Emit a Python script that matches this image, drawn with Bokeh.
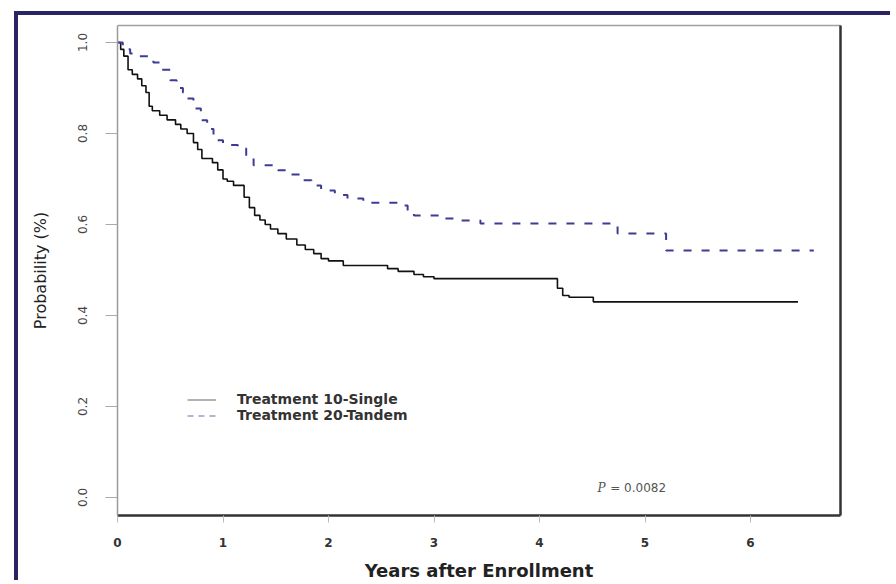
import numpy as np
from bokeh.plotting import figure
from bokeh.models import Range1d, FixedTicker, LinearAxis, Legend, LegendItem, Label, NumeralTickFormatter
from bokeh.embed import file_html
from bokeh.resources import INLINE

# ---- data ----
single_t = [0.0, 0.03, 0.06, 0.10, 0.14, 0.19, 0.23, 0.27, 0.30, 0.33, 0.40, 0.47, 0.55, 0.60,
            0.66, 0.72, 0.76, 0.80, 0.90, 0.95, 1.00, 1.04, 1.10, 1.20, 1.25, 1.30, 1.35, 1.40,
            1.45, 1.52, 1.60, 1.70, 1.78, 1.86, 1.93, 2.00, 2.14, 2.56, 2.66, 2.81, 2.90, 3.00,
            4.17, 4.22, 4.28, 4.51, 6.45]
single_s = [1.0, 0.985, 0.97, 0.94, 0.93, 0.92, 0.905, 0.89, 0.86, 0.85, 0.84, 0.83, 0.82, 0.81,
            0.80, 0.78, 0.765, 0.745, 0.736, 0.72, 0.70, 0.695, 0.686, 0.66, 0.637, 0.62, 0.61, 0.60,
            0.59, 0.58, 0.568, 0.555, 0.545, 0.536, 0.525, 0.52, 0.51, 0.503, 0.497, 0.49, 0.485, 0.481,
            0.46, 0.444, 0.44, 0.43, 0.43]

tandem_t = [0.0, 0.05, 0.12, 0.20, 0.30, 0.34, 0.42, 0.50, 0.56, 0.62, 0.66, 0.72, 0.79, 0.85,
            0.91, 1.00, 1.14, 1.22, 1.29, 1.52, 1.62, 1.74, 1.84, 1.93, 2.06, 2.18, 2.33, 2.66,
            2.75, 2.81, 3.07, 3.20, 3.44, 4.74, 5.20, 6.60]
tandem_s = [1.0, 0.985, 0.976, 0.97, 0.965, 0.956, 0.94, 0.917, 0.90, 0.89, 0.877, 0.855, 0.829, 0.81,
            0.785, 0.775, 0.767, 0.75, 0.73, 0.719, 0.71, 0.697, 0.686, 0.675, 0.665, 0.657, 0.648, 0.642,
            0.63, 0.62, 0.613, 0.609, 0.602, 0.58, 0.543, 0.543]

x_ticks = [0, 1, 2, 3, 4, 5, 6]
y_ticks = [0.0, 0.2, 0.4, 0.6, 0.8, 1.0]
legend_labels = ["Treatment 10-Single", "Treatment 20-Tandem"]
p_symbol = "P"
p_rest = "= 0.0082"
x_label = "Years after Enrollment"
y_label = "Probability (%)"

NAVY = "#2b2463"

p = figure(width=876, height=569, output_backend="svg", toolbar_location=None,
           x_range=Range1d(0, 6.853), y_range=Range1d(-0.0396, 1.0374),
           min_border_left=99, min_border_right=54, min_border_top=10, min_border_bottom=69,
           background_fill_color="white", border_fill_color="white",
           styles={"margin-left": "14px", "margin-top": "11px",
                   "border-left": f"4px solid {NAVY}",
                   "border-top": f"4px solid {NAVY}"})
p.outline_line_color = None
p.grid.visible = False

# curves
p.step(single_t, single_s, mode="after", line_color="#111111", line_width=1.6)
p.step(tandem_t, tandem_s, mode="after", line_color="#3c3c96", line_width=2.0, line_dash="8 10")

# legend (lighter sample lines as in the reference)
r1 = p.line([np.nan], [np.nan], line_color="#999999", line_width=1.5)
r2 = p.line([np.nan], [np.nan], line_color="#9a9ac8", line_width=1.5, line_dash="6 5")
legend = Legend(items=[LegendItem(label=legend_labels[0], renderers=[r1]),
                       LegendItem(label=legend_labels[1], renderers=[r2])],
                location=(70, 92), orientation="vertical",
                border_line_color=None, background_fill_alpha=0,
                padding=0, margin=0, spacing=0,
                glyph_width=29, glyph_height=15, label_height=15, label_standoff=21,
                label_text_font="DejaVu Sans", label_text_font_size="14px",
                label_text_font_style="bold", label_text_color="#333333")
p.add_layout(legend, "center")

# p-value
p.add_layout(Label(x=4.55, y=0.02, text=p_symbol, text_font="DejaVu Serif",
                   text_font_style="italic", text_font_size="12px", text_color="#555555",
                   text_baseline="middle"))
p.add_layout(Label(x=4.67, y=0.02, text=p_rest, text_font="DejaVu Sans",
                   text_font_size="12px", text_color="#555555", text_baseline="middle"))

# bottom axis
xa = p.xaxis[0]
xa.ticker = FixedTicker(ticks=x_ticks)
xa.axis_line_color = "#333333"
xa.axis_line_width = 2.5
xa.major_tick_line_color = "#bbbbbb"
xa.major_tick_out = 7
xa.major_tick_in = 0
xa.minor_tick_line_color = None
xa.major_label_standoff = 15
xa.major_label_text_font = "DejaVu Sans"
xa.major_label_text_font_style = "bold"
xa.major_label_text_font_size = "12px"
xa.major_label_text_color = "#333333"
xa.axis_label = x_label
xa.axis_label_standoff = 10
xa.axis_label_text_font = "DejaVu Sans"
xa.axis_label_text_font_style = "bold"
xa.axis_label_text_font_size = "18px"
xa.axis_label_text_color = "#222222"

# left axis
ya = p.yaxis[0]
ya.ticker = FixedTicker(ticks=y_ticks)
ya.formatter = NumeralTickFormatter(format="0.0")
ya.axis_line_color = "#9a9a9a"
ya.axis_line_width = 1.5
ya.major_tick_line_color = "#aaaaaa"
ya.major_tick_out = 12
ya.major_tick_in = 0
ya.minor_tick_line_color = None
ya.major_label_orientation = "vertical"
ya.major_label_standoff = 18
ya.major_label_text_font = "DejaVu Sans"
ya.major_label_text_font_size = "12px"
ya.major_label_text_color = "#444444"
ya.axis_label = y_label
ya.axis_label_standoff = 26
ya.axis_label_text_font = "DejaVu Sans"
ya.axis_label_text_font_style = "normal"
ya.axis_label_text_font_size = "16px"
ya.axis_label_text_color = "#222222"

# frame lines on top (gray) and right (dark)
top = LinearAxis(axis_line_color="#a0a0a0", axis_line_width=1.5,
                 major_tick_line_color=None, minor_tick_line_color=None,
                 major_label_text_font_size="0px", ticker=FixedTicker(ticks=[]))
right = LinearAxis(axis_line_color="#333333", axis_line_width=2.5,
                   major_tick_line_color=None, minor_tick_line_color=None,
                   major_label_text_font_size="0px", ticker=FixedTicker(ticks=[]))
p.add_layout(top, "above")
p.add_layout(right, "right")

open("out.html", "w").write(file_html(p, INLINE))
